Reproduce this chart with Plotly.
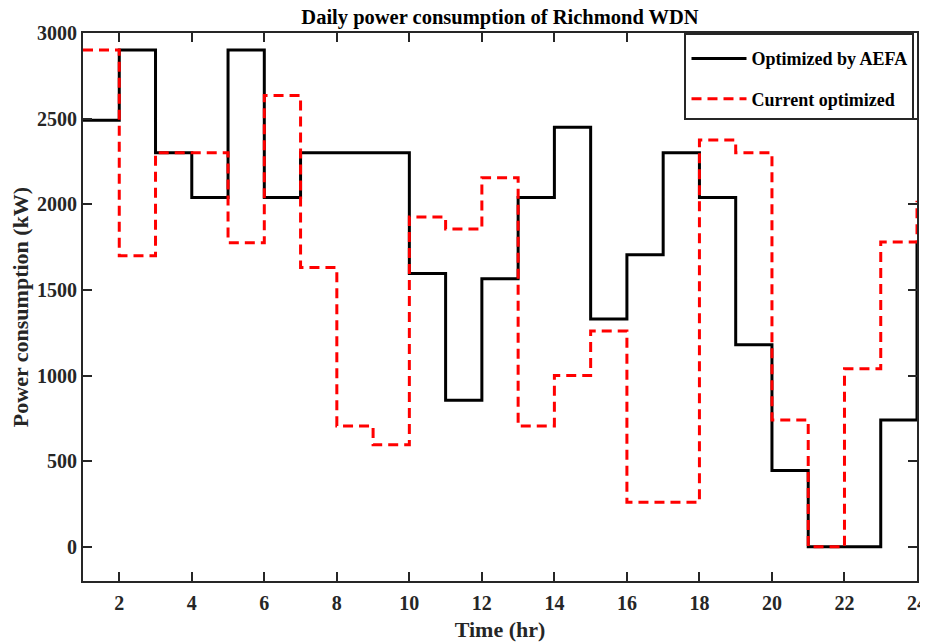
import plotly.graph_objects as go

hours = list(range(1, 25))

# Optimized by AEFA (kW), one value per hour, stairs style
aefa_kw = [2490, 2900, 2300, 2040, 2900, 2040, 2300, 2300, 2300, 1595, 855, 1565,
           2040, 2450, 1330, 1705, 2300, 2040, 1180, 445, 0, 0, 740, 1785]

# Current optimized (kW)
current_kw = [2900, 1700, 2300, 2300, 1775, 2635, 1630, 705, 595, 1925, 1855, 2155,
              705, 1000, 1260, 260, 260, 2375, 2300, 740, 0, 1040, 1780, 2020]

x_ticks = list(range(2, 25, 2))
y_ticks = list(range(0, 3001, 500))

FONT = "Liberation Serif"

fig = go.Figure()
fig.add_trace(go.Scatter(
    x=hours, y=aefa_kw, mode="lines", line_shape="hv",
    name="<b>Optimized by AEFA</b>", legendgroup="a",
    line=dict(color="black", width=3),
))
fig.add_trace(go.Scatter(
    x=hours, y=current_kw, mode="lines", line_shape="hv",
    name="<b>Current optimized</b>", legendgroup="b",
    line=dict(color="#ff0000", width=3, dash="10px,6px"),
))

axis_style = dict(
    showline=True, linecolor="#262626", linewidth=2, mirror="ticks",
    ticks="inside", ticklen=9, tickwidth=2, tickcolor="#262626",
    showgrid=False, zeroline=False,
    tickfont=dict(family=FONT, size=20, color="#262626", weight="bold"),
)

fig.update_xaxes(range=[1, 24], tickvals=x_ticks, ticklabelstandoff=3,
                 title=dict(text="<b>Time (hr)</b>", font=dict(family=FONT, size=22, color="#262626"), standoff=12),
                 **axis_style)
fig.update_yaxes(range=[-200, 3000], tickvals=y_ticks,
                 title=dict(text="<b>Power consumption (kW)</b>", font=dict(family=FONT, size=22, color="#262626"), standoff=4),
                 **axis_style)

# the page body adds an 8px margin, so the figure is 8px smaller and shifted
fig.update_layout(
    width=920, height=634,
    margin=dict(l=75, r=11, t=25, b=61, autoexpand=False),
    plot_bgcolor="white", paper_bgcolor="white",
    title=dict(text="<b>Daily power consumption of Richmond WDN</b>",
               font=dict(family=FONT, size=20.5, color="black"),
               x=0.5, xref="paper", xanchor="center",
               y=1, yref="container", yanchor="top", pad=dict(t=2)),
    legend=dict(x=0.997, y=1, xanchor="right", yanchor="top",
                bordercolor="#262626", borderwidth=2, bgcolor="white",
                font=dict(family=FONT, size=18, color="black"),
                title=dict(text=" ", font=dict(size=4)),
                traceorder="grouped", tracegroupgap=14, itemwidth=55),
    showlegend=True,
)

fig.write_html("out.html")
